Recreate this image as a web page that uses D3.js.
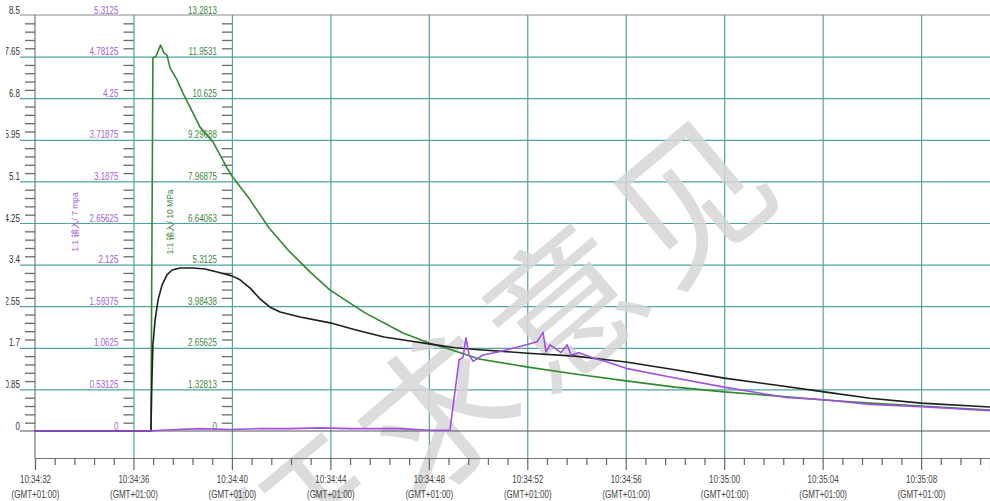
<!DOCTYPE html>
<html>
<head>
<meta charset="utf-8">
<script src="https://cdn.jsdelivr.net/npm/d3@7"></script>
<style>
  body { margin: 0; background: #fff; }
  svg { display: block; font-family: "Liberation Sans", Arial, sans-serif; }
  .line { fill: none; stroke-linejoin: round; stroke-linecap: round; }
</style>
</head>
<body>
<svg id="chart"></svg>
<script>
// time axis
const startTime = "10:34:32";
const spanSeconds = 38.8;
const xTickLabels = ["10:34:32", "10:34:36", "10:34:40", "10:34:44", "10:34:48",
  "10:34:52", "10:34:56", "10:35:00", "10:35:04", "10:35:08"];
const tzLabel = "(GMT+01:00)";

// y axes (bottom to top)
const blackMax = 8.5;
const purpleMax = 5.3125;
const greenMax = 13.28125;
const blackTicks = ["0", "0.85", "1.7", "2.55", "3.4", "4.25", "5.1", "5.95", "6.8", "7.65", "8.5"];
const purpleTicks = ["0", "0.53125", "1.0625", "1.59375", "2.125", "2.65625", "3.1875", "3.71875", "4.25", "4.78125", "5.3125"];
const greenTicks = ["0", "1.32813", "2.65625", "3.98438", "5.3125", "6.64063", "7.96875", "9.29688", "10.625", "11.9531", "13.2813"];
const purpleTitle = "1:1 输入/ 7 mpa";
const greenTitle = "1:1 输入/ 10 MPa";
const watermark = "征求意见";

// series: seconds after start, value
const blackSec = [0, 4.71, 4.75, 4.79, 4.88, 5.0, 5.16, 5.36, 5.57, 5.89, 6.42, 6.91, 7.40, 8.0, 8.33, 8.74,
  9.14, 9.55, 9.96, 10.77, 11.99, 13.08, 14.18, 15.24, 16.01, 17.07, 18.04, 20.03, 21.94, 24.01, 26.0,
  28.0, 30.07, 32.06, 33.93, 36.0, 38.8];
const blackVal = [0, 0, 1.04, 1.76, 2.27, 2.68, 2.98, 3.19, 3.29, 3.33, 3.33, 3.31, 3.25, 3.17, 3.09, 2.92,
  2.70, 2.53, 2.43, 2.33, 2.21, 2.06, 1.92, 1.84, 1.78, 1.70, 1.66, 1.59, 1.53, 1.41, 1.25,
  1.08, 0.94, 0.80, 0.67, 0.57, 0.49];

const greenSec = [0, 4.71, 4.75, 4.79, 4.92, 5.10, 5.24, 5.36, 5.49, 5.77, 6.01, 6.30, 6.70, 7.23, 7.80, 8.0,
  8.74, 9.51, 10.28, 11.17, 11.99, 13.41, 14.95, 16.01, 16.82, 18.04, 20.03, 21.94, 24.01, 26.0, 28.0,
  30.07, 32.06, 33.93, 36.0, 38.8];
const greenVal = [0, 0, 5.87, 11.91, 11.97, 12.32, 12.07, 12.0, 11.59, 11.21, 10.79, 10.34, 9.71, 9.23, 8.40, 8.14,
  7.38, 6.48, 5.78, 5.08, 4.50, 3.77, 3.13, 2.81, 2.62, 2.30, 2.04, 1.82, 1.60, 1.40, 1.25,
  1.12, 0.99, 0.89, 0.80, 0.67];

const purpleSec = [0, 4.75, 5.08, 6.70, 7.92, 9.14, 10.36, 11.58, 12.8, 14.83, 16.05, 16.86, 17.23, 17.39, 17.51,
  17.64, 17.80, 18.20, 18.81, 19.59, 20.40, 20.64, 20.76, 20.93, 21.37, 21.62, 21.78, 22.10, 22.71, 23.16,
  23.65, 24.01, 25.80, 28.0, 30.48, 32.06, 33.93, 36.0, 38.8];
const purpleVal = [0, 0, 0.01, 0.03, 0.02, 0.03, 0.03, 0.04, 0.03, 0.03, 0.01, 0.01, 0.91, 0.94, 1.19,
  0.97, 0.89, 0.97, 1.01, 1.07, 1.14, 1.26, 1.01, 1.10, 1.00, 1.10, 0.97, 1.00, 0.93, 0.89,
  0.84, 0.80, 0.69, 0.56, 0.43, 0.40, 0.34, 0.31, 0.26];

const width = 990;
const height = 501;
const plotTop = 15;
const plotBottom = 431;
const xAxisY = 458;
const gridLeft = 20;
const squeeze = 0.8;   // the labels in the picture are narrow

const gridColor = "#4fa3a3";
const blackColor = "#1e1e1e";
const purpleColor = "#9f50e2";
const greenColor = "#2f8a2f";

const parse = d3.timeParse("%H:%M:%S");
const t0 = parse(startTime);
const toDate = s => d3.timeMillisecond.offset(t0, Math.round(s * 1000));

const x = d3.scaleTime([t0, toDate(spanSeconds)], [35, width]);
const yBlack = d3.scaleLinear([0, blackMax], [plotBottom, plotTop]);
const yPurple = d3.scaleLinear([0, purpleMax], [plotBottom, plotTop]);
const yGreen = d3.scaleLinear([0, greenMax], [plotBottom, plotTop]);

const svg = d3.select("#chart")
  .attr("width", width)
  .attr("height", height)
  .attr("viewBox", [0, 0, width, height]);

svg.append("defs").append("clipPath").attr("id", "clip-left")
  .append("rect").attr("x", 6).attr("y", 0).attr("width", width).attr("height", height);

const majorDates = xTickLabels.map(parse);
const minorDates = d3.range(0, spanSeconds, 0.8).map(toDate);

// horizontal grid
const hGrid = d3.range(1, 10).map(i => i * blackMax / 10);
svg.append("g")
  .attr("transform", `translate(${gridLeft},0)`)
  .call(d3.axisLeft(yBlack).tickValues(hGrid).tickSize(-(width - gridLeft)).tickFormat(""))
  .call(g => g.select(".domain").remove())
  .call(g => g.selectAll(".tick line").attr("stroke", gridColor).attr("stroke-width", 1.2));

// vertical grid
svg.append("g")
  .attr("transform", `translate(0,${xAxisY})`)
  .call(d3.axisBottom(x).tickValues(majorDates.slice(1)).tickSize(-(xAxisY - plotTop)).tickFormat(""))
  .call(g => g.select(".domain").remove())
  .call(g => g.selectAll(".tick line").attr("stroke", gridColor).attr("stroke-width", 1.2));

// watermark
svg.append("text")
  .attr("transform", "translate(500,348) rotate(-40)")
  .attr("text-anchor", "middle")
  .attr("dominant-baseline", "central")
  .attr("fill", "#d6d6d6")
  .attr("opacity", 0.85)
  .style("font-family", "'Noto Sans CJK SC',sans-serif")
  .style("font-weight", 400)
  .style("font-size", "152px")
  .style("letter-spacing", "14px")
  .text(watermark);

// frame lines: top, zero, left axis
const frame = svg.append("g").attr("stroke-width", 1.2);
frame.append("line").attr("x1", gridLeft).attr("x2", width)
  .attr("y1", yBlack(blackMax)).attr("y2", yBlack(blackMax)).attr("stroke", "#8a8a8a");
frame.append("line").attr("x1", gridLeft).attr("x2", width)
  .attr("y1", yBlack(0)).attr("y2", yBlack(0)).attr("stroke", "#555");
frame.append("line").attr("x1", x(t0)).attr("x2", x(t0))
  .attr("y1", plotTop).attr("y2", xAxisY).attr("stroke", "#777");

// x axis
const xAxis = svg.append("g")
  .attr("transform", `translate(0,${xAxisY})`)
  .call(d3.axisBottom(x).tickValues(majorDates).tickSize(12).tickPadding(6)
    .tickFormat(d3.timeFormat("%H:%M:%S")));
xAxis.select(".domain").attr("stroke", "#777").attr("stroke-width", 1.2);
xAxis.selectAll(".tick line").attr("stroke", "#666").attr("stroke-width", 1.2);
xAxis.selectAll(".tick text")
  .attr("fill", "#444")
  .style("font-size", "10px")
  .attr("transform", `scale(${squeeze},1)`)
  .each(function(d) {
    const t = d3.select(this);
    const label = t.text();
    t.text(null);
    t.append("tspan").attr("x", 0).attr("dy", "0.71em").text(label);
    t.append("tspan").attr("x", 0).attr("dy", "1.45em").text(tzLabel);
  });
svg.append("g")
  .attr("transform", `translate(0,${xAxisY})`)
  .call(d3.axisBottom(x).tickValues(minorDates.filter((d, i) => i % 5)).tickSize(7).tickFormat(""))
  .call(g => g.select(".domain").remove())
  .call(g => g.selectAll(".tick line").attr("stroke", "#666").attr("stroke-width", 1.2));

// three left axes
const axes = [
  {scale: yBlack, max: blackMax, labels: blackTicks, at: x(t0), color: "#333", clip: true},
  {scale: yPurple, max: purpleMax, labels: purpleTicks, at: x(majorDates[1]), color: "#a45ee0"},
  {scale: yGreen, max: greenMax, labels: greenTicks, at: x(majorDates[2]), color: "#3d8a3d"}
];
axes.forEach(a => {
  const minor = d3.range(1, 50).filter(i => i % 5).map(i => i * a.max / 50);
  svg.append("g")
    .attr("transform", `translate(${a.at},0)`)
    .call(d3.axisLeft(a.scale).tickValues(minor).tickSize(10).tickFormat(""))
    .call(g => g.select(".domain").remove())
    .call(g => g.selectAll(".tick line").attr("stroke", "#6a6a6a").attr("stroke-width", 1.3));

  const lab = svg.append("g");
  if (a.clip) lab.attr("clip-path", "url(#clip-left)");
  lab.selectAll("text")
    .data(a.labels)
    .join("text")
    .attr("transform", (d, i) => `translate(${a.at - 15},${a.scale(i * a.max / 10) - 1.5}) scale(${squeeze},1)`)
    .attr("text-anchor", "end")
    .attr("fill", a.color)
    .style("font-size", "10px")
    .text(d => d);
});

// rotated axis titles
[[purpleTitle, x(majorDates[0]) + 43, "#a45ee0"], [greenTitle, x(majorDates[1]) + 40, "#3d8a3d"]]
  .forEach(([txt, px, col]) => {
    svg.append("text")
      .attr("transform", `translate(${px},222) rotate(-90)`)
      .attr("text-anchor", "middle")
      .attr("fill", col)
      .style("font-size", "8.5px")
      .style("font-family", "'Liberation Sans','Noto Sans CJK SC',sans-serif")
      .text(txt);
  });

// series
const series = [
  {sec: greenSec, val: greenVal, y: yGreen, color: greenColor},
  {sec: blackSec, val: blackVal, y: yBlack, color: blackColor},
  {sec: purpleSec, val: purpleVal, y: yPurple, color: purpleColor}
];
series.forEach(s => {
  const pts = s.sec.map((t, i) => ({date: toDate(t), v: s.val[i]}));
  const line = d3.line()
    .x(d => x(d.date))
    .y(d => s.y(d.v));
  svg.append("path")
    .datum(pts)
    .attr("class", "line")
    .attr("stroke", s.color)
    .attr("stroke-width", 1.6)
    .attr("d", line);
});
</script>
</body>
</html>
